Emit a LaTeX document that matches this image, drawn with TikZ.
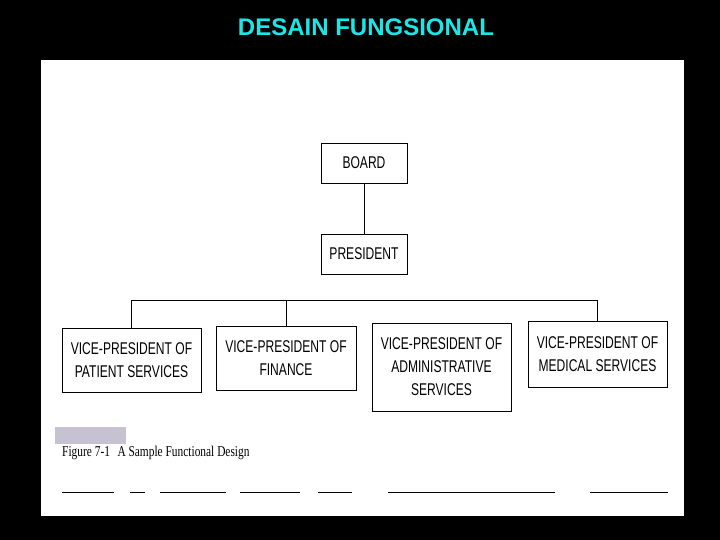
\documentclass[tikz,border=0pt]{standalone}
\usepackage{fontspec}
\setmainfont{Liberation Sans}
\newfontfamily\narrowfont[FakeStretch=0.71]{Liberation Sans}
\newfontfamily\capfont[FakeStretch=0.76]{Liberation Serif}
\definecolor{titlecyan}{RGB}{28,230,232}
\definecolor{tabgray}{RGB}{198,194,210}
\begin{document}
\begin{tikzpicture}[x=1pt,y=-1pt,
  box/.style={draw=black,line width=0.9pt,rectangle,inner sep=0pt,align=center,
    font=\narrowfont\fontsize{17}{23}\selectfont},
  link/.style={draw=black,line width=0.9pt}]
\useasboundingbox (0,0) rectangle (720,540);
\fill[black] (0,0) rectangle (720,540);
\fill[white] (41,60) rectangle (684,516);
\node[text=titlecyan,font=\bfseries\fontsize{24}{28}\selectfont,anchor=base] (title) at (366,36) {DESAIN FUNGSIONAL};

\node[box,minimum width=86pt,minimum height=40pt] (board) at (364,163) {BOARD};
\node[box,minimum width=86pt,minimum height=40pt] (president) at (364,254) {PRESIDENT};
\node[box,minimum width=139pt,minimum height=64pt] (patient) at (131.5,360) {VICE-PRESIDENT OF\\PATIENT SERVICES};
\node[box,minimum width=140pt,minimum height=64pt] (finance) at (286,358) {VICE-PRESIDENT OF\\FINANCE};
\node[box,minimum width=139pt,minimum height=88pt] (admin) at (441.5,367) {VICE-PRESIDENT OF\\ADMINISTRATIVE\\SERVICES};
\node[box,minimum width=139pt,minimum height=66pt] (medical) at (597.5,354) {VICE-PRESIDENT OF\\MEDICAL SERVICES};

\coordinate (busL) at (131.5,300);
\coordinate (busR) at (597.5,300);
\draw[link] (board) -- (president);
\draw[link] (patient.north) -- (busL) -- (busR) -- (medical.north);
\draw[link] (finance.north) -- (finance.north |- busL);

\fill[tabgray] (55,427) rectangle (126,444);
\node[anchor=base west,inner sep=0pt,font=\capfont\fontsize{15}{17}\selectfont] (caption) at (62,456) {Figure 7-1\enspace A Sample Functional Design};

\foreach \a/\b in {62/114,130/145,160/226,240/300,318/352,388/555,590/668}
  \draw[line width=0.8pt] (\a,492) -- (\b,492);
\end{tikzpicture}
\end{document}
